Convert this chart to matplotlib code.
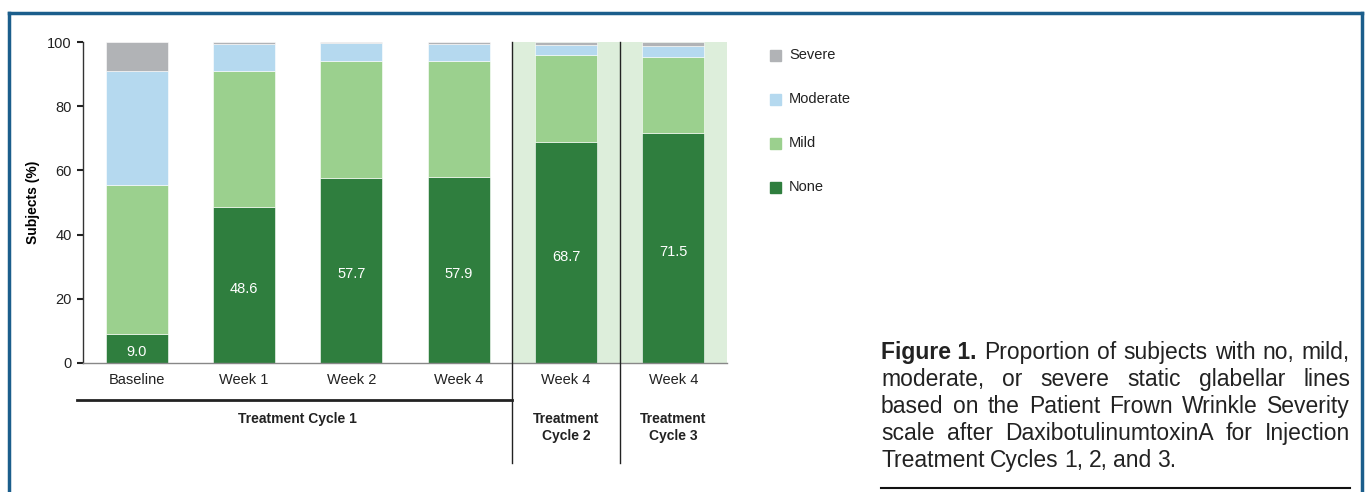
import numpy as np
import matplotlib.pyplot as plt
from matplotlib.lines import Line2D
from matplotlib.patches import Rectangle
import matplotlib.transforms as mtransforms

plt.rcParams['font.family'] = ['Liberation Sans', 'DejaVu Sans']

# Data (percent of subjects)
categories = ["Baseline", "Week 1", "Week 2", "Week 4", "Week 4", "Week 4"]
none_pct = [9.0, 48.6, 57.7, 57.9, 68.7, 71.5]
mild_pct = [46.4, 42.3, 36.3, 36.1, 27.2, 23.7]
moderate_pct = [35.6, 8.4, 5.7, 5.3, 3.1, 3.6]
severe_pct = [9.0, 0.7, 0.3, 0.7, 1.0, 1.2]
label_pct = none_pct

series = [("None", none_pct, "#2f7e3e"),
          ("Mild", mild_pct, "#9bd08e"),
          ("Moderate", moderate_pct, "#b5d9ef"),
          ("Severe", severe_pct, "#b1b3b6")]

caption_lines = [
    "Figure 1. Proportion of subjects with no, mild,",
    "moderate, or severe static glabellar lines",
    "based on the Patient Frown Wrinkle Severity",
    "scale after DaxibotulinumtoxinA for Injection",
    "Treatment Cycles 1, 2, and 3.",
]

W, H = 1370, 492
fig = plt.figure(figsize=(W / 100, H / 100), dpi=100)
ax = fig.add_axes([83 / W, (H - 363) / H, 644 / W, 321 / H])

x = np.arange(len(categories))

# shaded region for cycles 2 and 3
ax.axvspan(3.5, 5.5, color="#ddeedb", zorder=0, lw=0)

bottom = np.zeros(len(categories))
for name, vals, col in series:
    ax.bar(x, vals, width=0.58, bottom=bottom, color=col, edgecolor="#ffffff",
           linewidth=0.4, zorder=2, clip_on=False)
    bottom += np.array(vals)

for xi, v in zip(x, label_pct):
    ax.text(xi, v / 2 - 1.2, f"{v:.1f}", ha="center", va="center",
            color="white", fontsize=10.5, zorder=3)

ax.set_xlim(-0.5, 5.5)
ax.set_ylim(0, 100)
ax.set_yticks([0, 20, 40, 60, 80, 100])
ax.set_xticks(x)
ax.set_xticklabels(categories, fontsize=10.5, color="#222222")
ax.tick_params(axis="x", length=0, pad=7)
ax.tick_params(axis="y", length=4, width=1.5, color="#222222", labelsize=10.5,
               labelcolor="#222222", pad=4)
for s in ["top", "right"]:
    ax.spines[s].set_visible(False)
ax.spines["left"].set_color("#333333")
ax.spines["left"].set_linewidth(1.0)
ax.spines["bottom"].set_color("#888888")
ax.spines["bottom"].set_linewidth(1.0)
ax.set_ylabel("Subjects (%)", fontsize=10, fontweight="bold", labelpad=5)

# group separators and labels below the axis
trans = mtransforms.blended_transform_factory(ax.transData, ax.transAxes)
for sx in [3.5, 4.5]:
    ax.add_line(Line2D([sx, sx], [1.0, -0.312], transform=trans, color="#222222",
                       lw=1.0, clip_on=False, zorder=4))
ax.add_line(Line2D([-0.56, 3.5], [-0.115, -0.115], transform=trans, color="#222222",
                   lw=2.0, clip_on=False))
ax.text(1.5, -0.174, "Treatment Cycle 1", transform=trans, ha="center", va="center",
        fontsize=10, fontweight="bold", color="#222222")
ax.text(4.0, -0.202, "Treatment\nCycle 2", transform=trans, ha="center", va="center",
        fontsize=10, fontweight="bold", color="#222222", linespacing=1.3)
ax.text(5.0, -0.202, "Treatment\nCycle 3", transform=trans, ha="center", va="center",
        fontsize=10, fontweight="bold", color="#222222", linespacing=1.3)

# legend
leg_y = [55, 99, 143, 187]
for (name, vals, col), ly in zip(series[::-1], leg_y):
    fig.patches.append(Rectangle((770 / W, (H - ly - 5.5) / H), 11 / W, 11 / H,
                                 color=col, transform=fig.transFigure))
    fig.text(789 / W, (H - ly) / H, name, fontsize=10.5, va="center", color="#222222")

# caption, justified
renderer = fig.canvas.get_renderer()
cx0, cx1 = 881, 1350
line_base = [359, 386, 413, 440, 467]
for i, (line, ly) in enumerate(zip(caption_lines, line_base)):
    words = line.split()
    tokens = []
    if i == 0:
        tokens.append(("Figure 1.", "bold"))
        words = words[2:]
    tokens += [(w, "normal") for w in words]
    texts = [fig.text(0, (H - ly) / H, w, fontsize=16.5, fontweight=wt, va="baseline",
                      color="#222222") for w, wt in tokens]
    widths = [t.get_window_extent(renderer).width for t in texts]
    if i == len(caption_lines) - 1:
        gap = 5.5
    else:
        gap = (cx1 - cx0 - sum(widths)) / (len(texts) - 1)
    pos = cx0
    for t, w in zip(texts, widths):
        t.set_x(pos / W)
        pos += w + gap

fig.add_artist(Line2D([cx0 / W, cx1 / W], [(H - 488) / H] * 2, color="#111111", lw=1.5))

# outer frame
fc = "#1b5e8c"
fig.add_artist(Line2D([9 / W, 1362 / W], [(H - 13) / H] * 2, color=fc, lw=2.5))
fig.add_artist(Line2D([9 / W, 9 / W], [(H - 13) / H, 0], color=fc, lw=2.5))
fig.add_artist(Line2D([1362 / W, 1362 / W], [(H - 13) / H, 0], color=fc, lw=2.5))

fig.savefig("out.png", dpi=100)
